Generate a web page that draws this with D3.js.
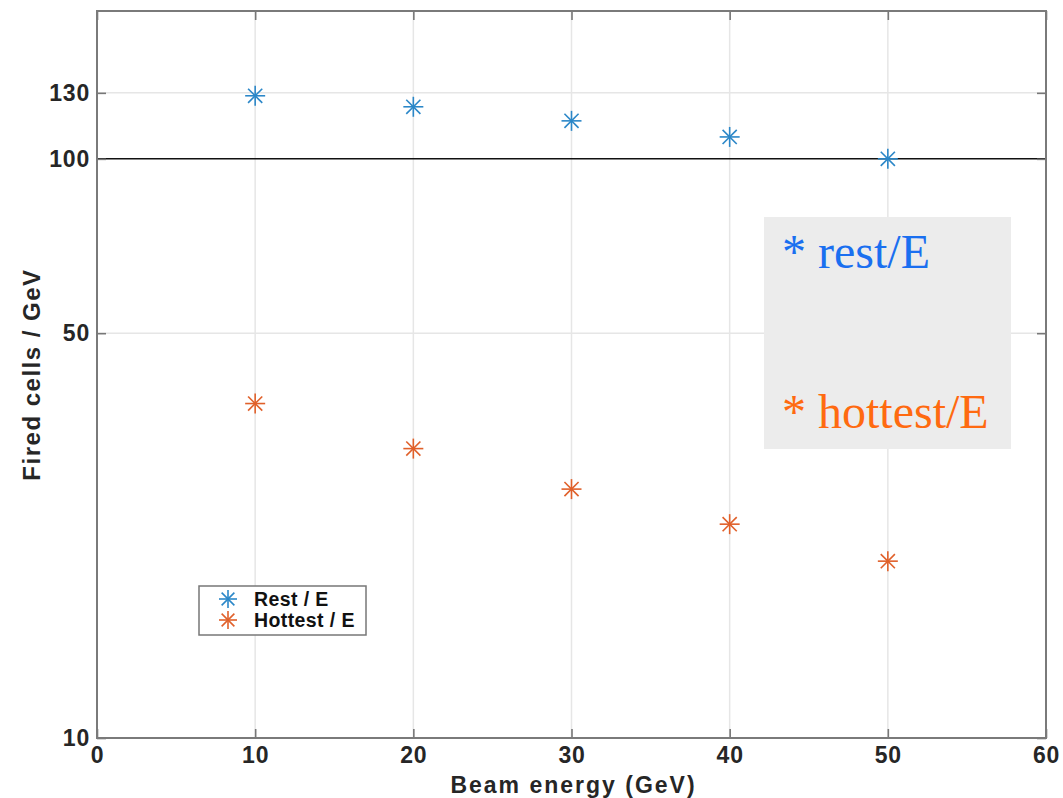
<!DOCTYPE html>
<html><head><meta charset="utf-8">
<script src="https://cdn.jsdelivr.net/npm/d3@7"></script>
<style>body{margin:0;background:#fff;} svg{display:block;}</style>
</head><body>
<svg id="c" width="1063" height="798"></svg>
<script>
const energies = [10, 20, 30, 40, 50];
const restPerE = [128.5, 123, 116.3, 109.1, 100];
const hottestPerE = [37.8, 31.6, 26.9, 23.4, 20.2];
const xTicks = [0, 10, 20, 30, 40, 50, 60];
const yTicks = [10, 50, 100, 130];
const legendLabels = ["Rest / E", "Hottest / E"];
const noteLabels = ["* rest/E", "* hottest/E"];

const svg = d3.select("#c");
const L = 97, T = 11, R = 1046, B = 738;
const x = d3.scaleLinear().domain([0, 60]).range([L, R]);
const y = d3.scaleLog().domain([10, 180]).range([B, T]);

const cBlue = "#2b87c8", cOrange = "#e0602a";

// grid
svg.append("g").selectAll("line").data(xTicks.slice(1, -1)).join("line")
  .attr("x1", d => x(d)).attr("x2", d => x(d)).attr("y1", T).attr("y2", B)
  .attr("stroke", "#e6e6e6").attr("stroke-width", 1.5);
svg.append("g").selectAll("line").data([50, 130]).join("line")
  .attr("x1", L).attr("x2", R).attr("y1", d => y(d)).attr("y2", d => y(d))
  .attr("stroke", "#e6e6e6").attr("stroke-width", 1.5);

// annotation box
const nb = svg.append("g");
nb.append("rect").attr("x", 764).attr("y", 217).attr("width", 247).attr("height", 232).attr("fill", "#ececec");
nb.selectAll("text").data(noteLabels).join("text")
  .attr("x", 782).attr("y", (d, i) => i === 0 ? 268 : 428)
  .attr("font-family", "'Liberation Serif', 'Times New Roman', serif")
  .attr("font-size", 48)
  .attr("fill", (d, i) => i === 0 ? "#1a6ff0" : "#ff6a10")
  .text(d => d);

// reference line at 100
svg.append("line").attr("x1", L).attr("x2", R).attr("y1", y(100)).attr("y2", y(100))
  .attr("stroke", "#111").attr("stroke-width", 1.5);

// axes
const fontAx = "'Liberation Sans', Arial, Helvetica, sans-serif";
const xAxis = d3.axisBottom(x).tickValues(xTicks).tickSize(-9).tickPadding(9);
const gx = svg.append("g").attr("transform", `translate(0,${B})`).call(xAxis);
const yAxis = d3.axisLeft(y).tickValues(yTicks).tickFormat(d3.format("d")).tickSize(-9).tickPadding(7);
const gy = svg.append("g").attr("transform", `translate(${L},0)`).call(yAxis);
const gxt = svg.append("g").attr("transform", `translate(0,${T})`).call(d3.axisTop(x).tickValues(xTicks).tickSize(-9).tickFormat(""));
const gyr = svg.append("g").attr("transform", `translate(${R},0)`).call(d3.axisRight(y).tickValues(yTicks).tickSize(-9).tickFormat(""));
[gx, gy, gxt, gyr].forEach(g => {
  g.select(".domain").remove();
  g.selectAll(".tick line").attr("stroke", "#777").attr("stroke-width", 1.6);
  g.selectAll("text").attr("font-family", fontAx).attr("font-weight", "bold").attr("font-size", 23)
    .attr("letter-spacing", 0.8).attr("fill", "#262626");
});
// frame
svg.append("rect").attr("x", L).attr("y", T).attr("width", R - L).attr("height", B - T)
  .attr("fill", "none").attr("stroke", "#7a7a7a").attr("stroke-width", 2);

// axis labels
svg.append("text").attr("x", (L + R) / 2 + 2).attr("y", 793).attr("text-anchor", "middle")
  .attr("font-family", fontAx).attr("font-weight", "bold").attr("font-size", 23).attr("letter-spacing", 2).attr("fill", "#262626")
  .text("Beam energy (GeV)");
svg.append("text").attr("transform", `translate(40,${(T + B) / 2}) rotate(-90)`).attr("text-anchor", "middle")
  .attr("font-family", fontAx).attr("font-weight", "bold").attr("font-size", 24).attr("letter-spacing", 1.5).attr("fill", "#262626")
  .text("Fired cells / GeV");

// asterisk marker
function star(g, cx, cy, r, color) {
  const s = g.append("g").attr("transform", `translate(${cx},${cy})`).attr("stroke", color).attr("stroke-width", 1.6);
  for (let k = 0; k < 4; k++) {
    const a = k * Math.PI / 4;
    s.append("line").attr("x1", -r * Math.sin(a)).attr("y1", -r * Math.cos(a))
      .attr("x2", r * Math.sin(a)).attr("y2", r * Math.cos(a));
  }
}
const gm = svg.append("g");
energies.forEach((e, i) => {
  star(gm, x(e), y(restPerE[i]), 10, cBlue);
  star(gm, x(e), y(hottestPerE[i]), 10, cOrange);
});

// legend
const lg = svg.append("g");
lg.append("rect").attr("x", 199).attr("y", 586).attr("width", 167).attr("height", 49)
  .attr("fill", "#fff").attr("stroke", "#777").attr("stroke-width", 1.5);
legendLabels.forEach((t, i) => {
  const yy = 599 + i * 21;
  star(lg, 228, yy, 9, i === 0 ? cBlue : cOrange);
  lg.append("text").attr("x", 254).attr("y", yy + 7).attr("font-family", fontAx).attr("font-weight", "bold")
    .attr("font-size", 19.5).attr("letter-spacing", 0.4).attr("fill", "#111").text(t);
});
</script>
</body></html>
